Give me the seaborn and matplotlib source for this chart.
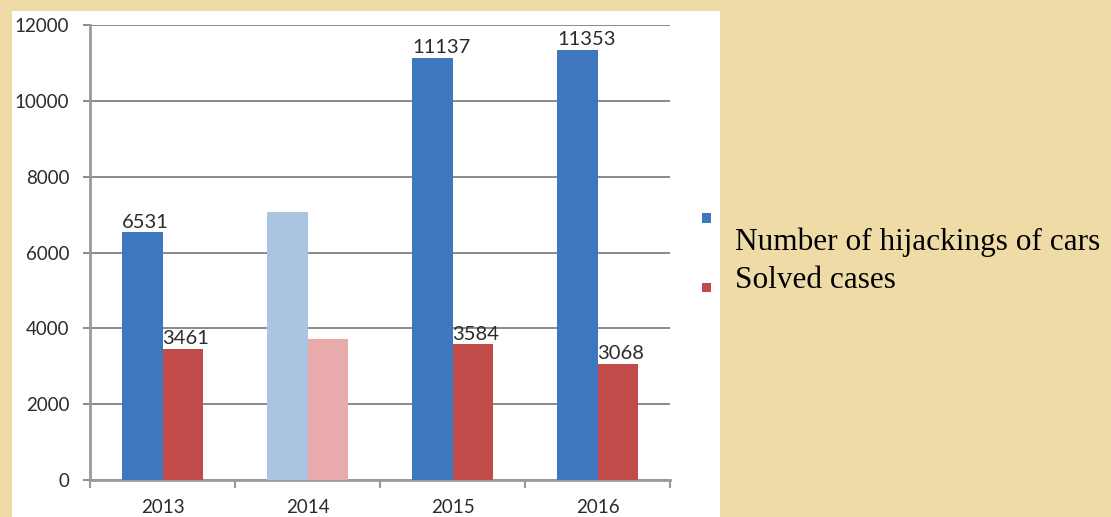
import matplotlib
matplotlib.use("Agg")
import matplotlib.pyplot as plt
from matplotlib.patches import Rectangle
import seaborn as sns
import pandas as pd

years = ["2013", "2014", "2015", "2016"]
hijackings = [6531, 7070, 11137, 11353]
solved = [3461, 3720, 3584, 3068]
series_names = ["Number of hijackings of cars", "Solved cases"]
labelled_years = ["2013", "2015", "2016"]
y_ticks = [0, 2000, 4000, 6000, 8000, 10000, 12000]

blue, red = "#3F77BF", "#C04B49"
blue_faded, red_faded = "#A9C5E1", "#E8AAAA"
bg = "#EFDBA6"

df = pd.DataFrame({
    "year": years * 2,
    "value": hijackings + solved,
    "series": [series_names[0]] * 4 + [series_names[1]] * 4,
})

sns.set_theme(style="white")
plt.rcParams["font.family"] = ["Lato", "DejaVu Sans"]

W, H = 1111, 517
fig = plt.figure(figsize=(W / 100, H / 100), dpi=100, facecolor=bg)

# white chart panel (behind the axes)
fig.patches.append(Rectangle((12 / W, 0), (720 - 12) / W, (H - 11) / H,
                             transform=fig.transFigure, facecolor="white",
                             edgecolor="none", zorder=-5))

ax = fig.add_axes([90 / W, 37 / H, (670 - 90) / W, (480 - 25) / H])
ax.set_facecolor("none")
ax.set_zorder(2)

sns.barplot(data=df, x="year", y="value", hue="series", order=years,
            hue_order=series_names, palette=[blue, red], width=0.56,
            saturation=1, legend=False, ax=ax, zorder=3)

# faded 2014 bars and data labels
faded = [blue_faded, red_faded]
for hi, cont in enumerate(ax.containers):
    for ci, bar in enumerate(cont):
        bar.set_edgecolor("none")
        if years[ci] == "2014":
            bar.set_facecolor(faded[hi])
        elif years[ci] in labelled_years:
            ax.annotate(f"{int(bar.get_height())}",
                        (bar.get_x(), bar.get_height()),
                        xytext=(0, 1), textcoords="offset points",
                        ha="left", va="bottom", fontsize=14.5,
                        color="#2b2b2b", zorder=4)

ax.set_ylim(0, 12000)
ax.set_xlim(-0.5, len(years) - 0.5)
ax.set_yticks(y_ticks)
ax.set_yticklabels([str(t) for t in y_ticks])
ax.yaxis.grid(True, color="#8a8a8a", linewidth=1.4, zorder=0)
ax.set_axisbelow(True)
ax.set_xlabel("")
ax.set_ylabel("")

ax.set_xticks(range(len(years)))
ax.set_xticklabels(years)
ax.set_xticks([i - 0.5 for i in range(len(years) + 1)], minor=True)
ax.tick_params(axis="x", which="major", length=0, pad=14, labelsize=13.5,
               labelcolor="#2b2b2b")
ax.tick_params(axis="x", which="minor", length=6, width=1.5, color="#9a9a9a",
               direction="out", bottom=True)
ax.tick_params(axis="y", length=5, width=1.4, color="#8a8a8a", left=True,
               pad=10, labelsize=13.5, labelcolor="#2b2b2b")

for s in ["top", "right"]:
    ax.spines[s].set_visible(False)
for s in ["left", "bottom"]:
    ax.spines[s].set_color("#9a9a9a")
    ax.spines[s].set_linewidth(2)

# legend (markers + serif labels)
for (my, ty, col, name) in [(218, 242, blue, series_names[0]),
                            (287, 280, red, series_names[1])]:
    fig.patches.append(Rectangle((702 / W, 1 - (my + 4.5) / H), 9 / W, 9 / H,
                                 transform=fig.transFigure, facecolor=col,
                                 edgecolor="none", zorder=2))
    fig.text(735 / W, 1 - ty / H, name, ha="left", va="center",
             fontsize=22.5, family=["Liberation Serif", "DejaVu Serif"],
             color="black")

fig.savefig("out.png", dpi=100, facecolor=bg)
